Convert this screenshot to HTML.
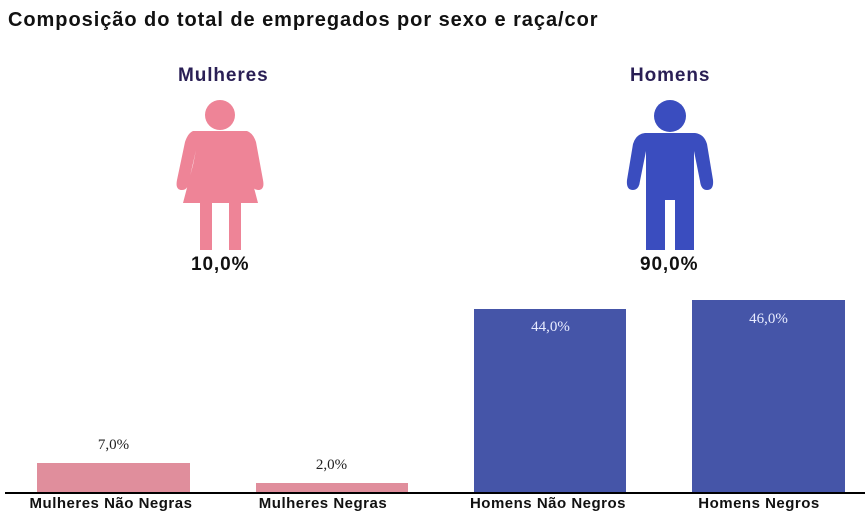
<!DOCTYPE html>
<html><head><meta charset="utf-8"><style>
body{margin:0;width:865px;height:520px;background:#fff;position:relative;font-family:"Liberation Sans",Arial,sans-serif;overflow:hidden}
.t{position:absolute;white-space:nowrap}
.bar{position:absolute}
.v{position:absolute;font-family:"Liberation Serif",serif;font-size:15px;text-align:center;width:153px}
.x{position:absolute;top:495px;width:200px;text-align:center;font-weight:bold;font-size:15px;letter-spacing:0.5px;color:#111}
</style></head><body>
<div class="t" style="left:8px;top:9px;font-size:20px;letter-spacing:0.95px;font-weight:bold;color:#111">Composição do total de empregados por sexo e raça/cor</div>
<div class="t" style="left:178px;top:65px;font-size:19px;letter-spacing:0.9px;font-weight:bold;color:#2a1f55">Mulheres</div>
<div class="t" style="left:630px;top:65px;font-size:19px;letter-spacing:0.9px;font-weight:bold;color:#2a1f55">Homens</div>
<svg style="position:absolute;left:0;top:0" width="865" height="520">
<g fill="#ee8497">
<circle cx="220" cy="115" r="15"/>
<path d="M193 131 L247 131 Q253 133 256 142 L263 180 Q265 190 258 190 Q252 190 251 181 L244 150 L248 165 L258 203 L241 203 L241 250 L229 250 L229 203 L212 203 L212 250 L200 250 L200 203 L183 203 L193 165 L196 150 L189 181 Q188 190 182 190 Q175 190 177 180 L185 142 Q188 133 193 131 Z"/>
</g>
<g fill="#3a4dbf">
<circle cx="670" cy="116" r="16"/>
<path d="M645 133 L695 133 Q704 134 707 144 L713 180 Q714 190 707 190 Q701 190 700 181 L694 151 L694 250 L675 250 L675 200 L665 200 L665 250 L646 250 L646 151 L640 181 Q639 190 633 190 Q626 190 627 180 L633 144 Q636 134 645 133 Z"/>
</g>
</svg>
<div class="t" style="left:191px;top:254px;font-size:19px;letter-spacing:0.9px;font-weight:bold;color:#111">10,0%</div>
<div class="t" style="left:640px;top:254px;font-size:19px;letter-spacing:0.9px;font-weight:bold;color:#111">90,0%</div>
<div class="bar" style="left:37px;top:463px;width:153px;height:30px;background:#e08e9c"></div>
<div class="bar" style="left:256px;top:483px;width:152px;height:10px;background:#e08e9c"></div>
<div class="bar" style="left:474px;top:309px;width:152px;height:184px;background:#4555a8"></div>
<div class="bar" style="left:692px;top:300px;width:153px;height:193px;background:#4555a8"></div>
<div class="v" style="left:37px;top:437px;color:#222">7,0%</div>
<div class="v" style="left:255px;top:457px;color:#222">2,0%</div>
<div class="v" style="left:474px;top:319px;color:#e8ecff">44,0%</div>
<div class="v" style="left:692px;top:311px;color:#e8ecff">46,0%</div>
<div style="position:absolute;left:5px;top:492px;width:860px;height:2px;background:#000"></div>
<div class="x" style="left:11px">Mulheres Não Negras</div>
<div class="x" style="left:223px">Mulheres Negras</div>
<div class="x" style="left:448px">Homens Não Negros</div>
<div class="x" style="left:659px">Homens Negros</div>
</body></html>
